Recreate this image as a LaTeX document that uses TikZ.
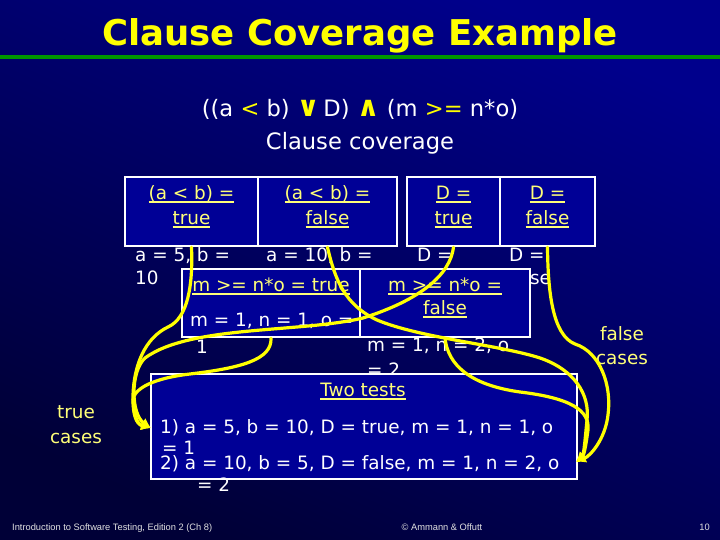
\documentclass[tikz,border=0pt]{standalone}
\usepackage{fontspec}
\setmainfont{DejaVu Sans}
\newfontfamily\footfont{Liberation Sans}
\usetikzlibrary{arrows.meta}
\definecolor{bgtop}{RGB}{0,0,140}
\definecolor{bgbot}{RGB}{0,0,55}
\definecolor{boxblue}{RGB}{0,0,150}
\definecolor{ttl}{RGB}{255,255,0}
\definecolor{lbl}{RGB}{255,255,120}
\definecolor{curvecol}{RGB}{255,255,0}
\definecolor{grn}{RGB}{0,150,0}
\definecolor{foot}{RGB}{225,225,225}
\newsavebox\ulbox
\newcommand\yul[1]{\sbox\ulbox{#1}\rlap{\rule[-3.5pt]{\wd\ulbox}{1.8pt}}\usebox\ulbox}
\newcommand\bigop[1]{{\color{ttl}\fontsize{28}{30}\bfseries\selectfont #1}}
\begin{document}
\begin{tikzpicture}[x=1pt,y=-1pt,
  cell/.style={draw=white, line width=2.5pt, fill=boxblue, inner sep=0pt},
  txt/.style={inner sep=0pt, anchor=base west, text=white, font=\fontsize{18.4}{22}\selectfont},
  ctxt/.style={txt, anchor=base, text=lbl},
  ftxt/.style={inner sep=0pt, text=foot, font=\footfont\fontsize{9.3}{11}\selectfont},
  yc/.style={draw=curvecol, line width=3.2pt, line cap=round, -{Latex[length=10pt,width=10pt]}}
  ]
\shade[top color=bgtop, bottom color=bgbot, shading angle=-25] (0,0) rectangle (720,540);
\useasboundingbox (0,0) rectangle (720,540);
% title
\node[inner sep=0pt, anchor=base, text=ttl, font=\fontsize{35.5}{40}\bfseries\selectfont] (title) at (360,46) {Clause Coverage Example};
\coordinate (gl) at (0,57);
\coordinate (gr) at (720,57);
\draw[grn, line width=4.5pt] (gl) -- (gr);
% formula
\node[inner sep=0pt, anchor=base, text=white, font=\fontsize{22.6}{26}\selectfont] (formula) at (360,117)
 {((a {\color{ttl}<} b) \bigop{∨}\,D) \bigop{∧} (m {\color{ttl}>=} n*o)};
\node[inner sep=0pt, anchor=base, text=white, font=\fontsize{22.6}{26}\selectfont] (cc) at (360,150) {Clause coverage};
% top cells
\node[cell, minimum width=133pt, minimum height=69pt] (A1) at (191.5,211.5) {};
\node[cell, minimum width=139pt, minimum height=69pt] (A2) at (327.5,211.5) {};
\node[cell, minimum width=93pt, minimum height=69pt] (B1) at (453.5,211.5) {};
\node[cell, minimum width=95pt, minimum height=69pt] (B2) at (547.5,211.5) {};
\node[ctxt] (a1a) at (191.5,199.5) {\yul{(a < b) =}};
\node[ctxt] (a1b) at (191.5,224.5) {\yul{true}};
\node[ctxt] (a2a) at (327.5,199.5) {\yul{(a < b) =}};
\node[ctxt] (a2b) at (327.5,224.5) {\yul{false}};
\node[ctxt] (b1a) at (453.5,199.5) {\yul{D =}};
\node[ctxt] (b1b) at (453.5,224.5) {\yul{true}};
\node[ctxt] (b2a) at (547.5,199.5) {\yul{D =}};
\node[ctxt] (b2b) at (547.5,224.5) {\yul{false}};
% values under top cells
\node[txt] (v1a) at (135,261.5) {a = 5, b =};
\node[txt] (v1b) at (135,284.5) {10};
\node[txt] (v2a) at (266,261.5) {a = 10, b =};
\node[txt] (v3a) at (417,261.5) {D =};
\node[txt] (v4a) at (509,261.5) {D =};
\node[txt] (v4b) at (507,284.5) {false};
% middle cells
\node[cell, minimum width=178pt, minimum height=68pt] (M1) at (271,303) {};
\node[cell, minimum width=170pt, minimum height=68pt] (M2) at (445,303) {};
\node[ctxt] (m1a) at (271,291.5) {\yul{m >= n*o = true}};
\node[txt] (m1b) at (190,326.5) {m = 1, n = 1, o =};
\node[txt] (m1c) at (196,353.5) {1};
\node[ctxt] (m2a) at (445,291.5) {\yul{m >= n*o =}};
\node[ctxt] (m2b) at (445,314.5) {\yul{false}};
\node[txt] (m2c) at (367,351.5) {m = 1, n = 2, o};
\node[txt] (m2d) at (367,376) {= 2};
% tests box
\node[cell, minimum width=426pt, minimum height=105pt] (T) at (364,426.5) {};
\node[ctxt] (tt) at (363,396.5) {\yul{Two tests}};
\node[txt] (t1) at (160,433.5) {1) a = 5, b = 10, D = true, m = 1, n = 1, o};
\node[txt] (t1b) at (162,454.5) {= 1};
\node[txt] (t2) at (160,469.5) {2) a = 10, b = 5, D = false, m = 1, n = 2, o};
\node[txt] (t2b) at (197,491.5) {= 2};
% side labels
\node[ctxt] (tc1) at (76,418.5) {true};
\node[ctxt] (tc2) at (76,443.5) {cases};
\node[ctxt] (fc1) at (622,340.5) {false};
\node[ctxt] (fc2) at (622,364.5) {cases};
% arrow targets
\coordinate (tT) at (151,428);
\coordinate (tF) at (576,462);
% true curves
\draw[yc] (A1.south) .. controls (193,285) and (188,318) .. (168,327)
  .. controls (145,338) and (134,365) .. (133,395)
  .. controls (133,412) and (136,424) .. (tT);
\draw[yc] (M1.south) .. controls (272,360) and (240,368) .. (190,374)
  .. controls (155,378) and (134,388) .. (133,400)
  .. controls (133,414) and (136,424) .. (tT);
\draw[yc] (B1.south) .. controls (450,275) and (420,300) .. (363,318)
  .. controls (300,333) and (190,325) .. (145,358)
  .. controls (130,372) and (131,414) .. (tT);
% false curves
\draw[yc] (A2.south) .. controls (335,280) and (345,305) .. (377,320)
  .. controls (420,338) and (500,345) .. (540,358)
  .. controls (575,370) and (590,395) .. (587,420)
  .. controls (585,440) and (584,454) .. (tF);
\draw[yc] (B2.south) .. controls (548,290) and (552,335) .. (575,344)
  .. controls (600,352) and (612,385) .. (608,415)
  .. controls (605,440) and (590,456) .. (tF);
\draw[yc] (M2.south) .. controls (448,365) and (470,385) .. (520,392)
  .. controls (570,398) and (590,410) .. (588,430)
  .. controls (586,445) and (584,455) .. (tF);
% footer
\node[ftxt, anchor=base west] (f1) at (12,530) {Introduction to Software Testing, Edition 2 (Ch 8)};
\node[ftxt, anchor=base] (f2) at (442,530) {© Ammann \& Offutt};
\node[ftxt, anchor=base east] (f3) at (710,530) {10};
\end{tikzpicture}
\end{document}
